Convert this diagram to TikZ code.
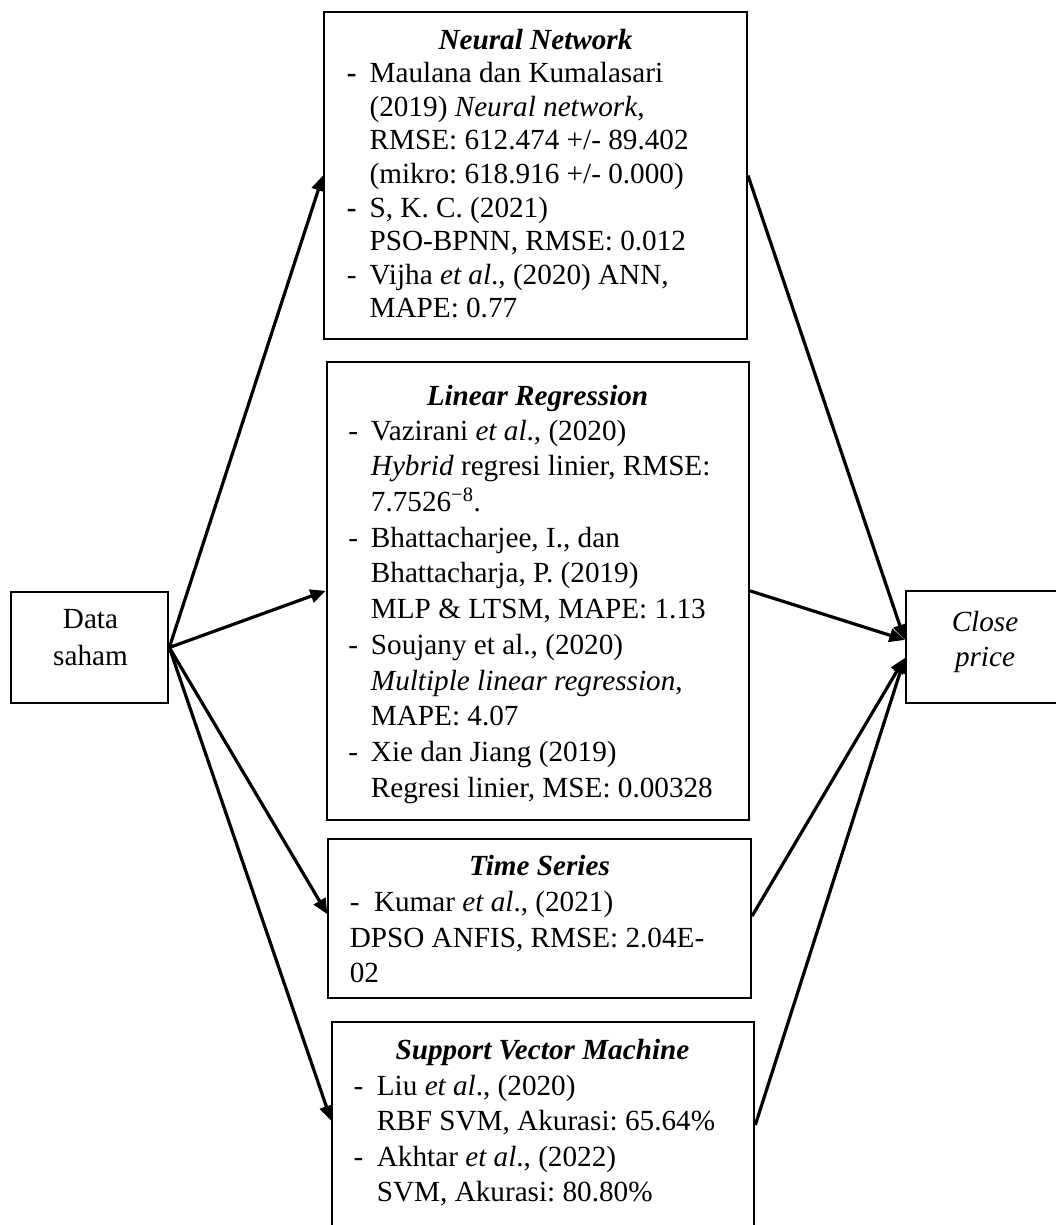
\documentclass[tikz,border=0pt]{standalone}
\usepackage{fontspec}
\setmainfont{Liberation Serif}
\usetikzlibrary{arrows.meta}
\frenchspacing
\newcommand\dsh[1]{\makebox[#1][l]{-}}
\newcommand\bdsh[1]{\makebox[#1][l]{\textbf{-}}}
\newcommand\fnn{\fontsize{21.9pt}{25.2pt}\selectfont}
\newcommand\flr{\fontsize{21.9pt}{26.8pt}\selectfont}
\newcommand\fts{\fontsize{21.9pt}{26.6pt}\selectfont}
\newcommand\fsv{\fontsize{21.9pt}{26.7pt}\selectfont}
\begin{document}
\begin{tikzpicture}[x=0.75pt,y=-0.75pt,
  box/.style={draw, line width=1.5pt, inner sep=0pt},
  arr/.style={line width=2.4pt, -{Triangle[length=11.5pt,width=10pt]}},
  ttl/.style={anchor=base, inner sep=0pt, font=\fontsize{21.9pt}{25pt}\selectfont\bfseries\itshape},
  body/.style={anchor=base west, inner sep=0pt},
  cen/.style={anchor=base, inner sep=0pt}]
\clip (0,0) rectangle (1056,1225);
\fill[white] (0,0) rectangle (1056,1225);

% boxes
\node[box, minimum width=317.25pt, minimum height=245.7pt] (nn) at (535.5,175.5) {};
\node[box, minimum width=316.7pt, minimum height=343.7pt] (lr) at (537.85,590.85) {};
\node[box, minimum width=317pt, minimum height=119.25pt] (ts) at (539.65,918.8) {};
\node[box, minimum width=316.5pt, minimum height=178.7pt] (svm) at (543.3,1140.85) {};
\node[box, minimum width=117.7pt, minimum height=83.7pt] (data) at (89.85,647.5) {};
\node[box, minimum width=118.7pt, minimum height=84.2pt] (close) at (984.85,647.15) {};

% titles
\node[ttl] (nnt) at (535.5,49.3) {Neural Network};
\node[ttl] (lrt) at (537.5,405) {Linear Regression};
\node[ttl] (tst) at (539.5,875) {Time Series};
\node[ttl] (svmt) at (542.5,1059.3) {Support Vector Machine};

% contents
\node[body, font=\fnn] (nnb) at (346.7,82.7) {\begin{tabular}[t]{@{}l@{}l@{}}
\bdsh{17pt} & Maulana dan Kumalasari\\
 & (2019) \textit{Neural network},\\
 & RMSE: 612.474 +/- 89.402\\
 & (mikro: 618.916 +/- 0.000)\\
\bdsh{17pt} & S, K. C. (2021)\\
 & PSO-BPNN, RMSE: 0.012\\
\dsh{17pt} & Vijha \textit{et al}., (2020) ANN,\\
 & MAPE: 0.77
\end{tabular}};

\node[body, font=\flr] (lrb) at (348,440) {\begin{tabular}[t]{@{}l@{}l@{}}
\dsh{17pt} & Vazirani \textit{et al}., (2020)\\
 & \textit{Hybrid} regresi linier, RMSE:\\
 & 7.7526\textsuperscript{\char"2212 8}.\\
\dsh{17pt} & Bhattacharjee, I., dan\\
 & Bhattacharja, P. (2019)\\
 & MLP \& LTSM, MAPE: 1.13\\
\dsh{17pt} & Soujany et al., (2020)\\
 & \textit{Multiple linear regression},\\
 & MAPE: 4.07\\
\dsh{17pt} & Xie dan Jiang (2019)\\
 & Regresi linier, MSE: 0.00328
\end{tabular}};

\node[body, font=\fts] (tsb) at (349.5,911.7) {\begin{tabular}[t]{@{}l@{}}
\dsh{18.2pt}Kumar \textit{et al}., (2021)\\
DPSO ANFIS, RMSE: 2.04E-\\
02
\end{tabular}};

\node[body, font=\fsv] (svmb) at (353.3,1095) {\begin{tabular}[t]{@{}l@{}l@{}}
\dsh{17.5pt} & Liu \textit{et al}., (2020)\\
 & RBF SVM, Akurasi: 65.64\%\\
\dsh{17.5pt} & Akhtar \textit{et al}., (2022)\\
 & SVM, Akurasi: 80.80\%
\end{tabular}};

\node[cen, font=\fontsize{21.9pt}{27.75pt}\selectfont] (datat) at (90.5,628) {\begin{tabular}[t]{@{}c@{}}Data\\saham\end{tabular}};
\node[cen, font=\fontsize{21.9pt}{26.25pt}\selectfont\itshape] (closet) at (985,631.7) {\begin{tabular}[t]{@{}c@{}}Close\\price\end{tabular}};

% connectors
\draw[arr] (data.east) -- (nn.west);
\draw[arr] (data.east) -- (lr.west);
\draw[arr] (data.east) -- ([yshift=3.5pt]ts.west);
\draw[arr] (data.east) -- ([yshift=14.9pt]svm.west);
\draw[arr] (nn.east) -- ([yshift=5.4pt]close.west);
\draw[arr] (lr.east) -- ([yshift=5.4pt]close.west);
\draw[arr] ([yshift=2pt]ts.east) -- ([yshift=-8.1pt]close.west);
\draw[arr] ([yshift=11.9pt]svm.east) -- ([yshift=-8.1pt]close.west);
\end{tikzpicture}
\end{document}
